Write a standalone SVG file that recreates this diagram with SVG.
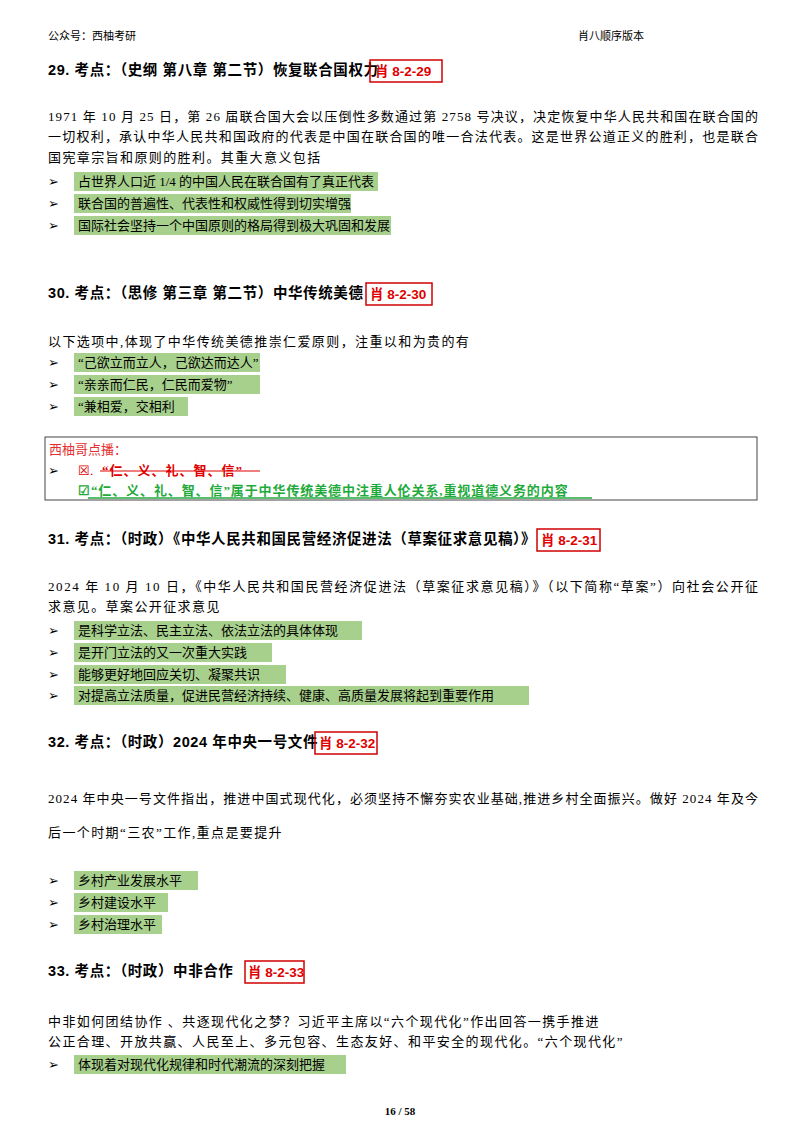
<svg xmlns="http://www.w3.org/2000/svg" width="800" height="1132" viewBox="0 0 800 1132">
<style>
text{font-family:"Liberation Serif","Noto Sans CJK SC",serif;font-size:13px;fill:#000}
.b{letter-spacing:1.4px}
.h{font-weight:bold;font-size:14.5px;letter-spacing:0.6px;font-family:"Liberation Sans","Noto Sans CJK SC",sans-serif}
.r{fill:#e00000;font-weight:bold;font-family:"Liberation Sans","Noto Sans CJK SC",sans-serif;font-size:13.5px}
.tag{fill:none;stroke:#d00000;stroke-width:1.5}
.hl{fill:#a8d08d}
.sm{font-size:11px}
</style>
<rect width="800" height="1132" fill="#fff"/>
<text class="sm" x="48" y="40">公众号：西柚考研</text>
<text class="sm" x="578" y="40">肖八顺序版本</text>

<g id="s29">
<text class="h" x="48" y="75">29. 考点：（史纲 第八章 第二节）恢复联合国权力</text>
<rect class="tag" x="370" y="60" width="72" height="22"/>
<text class="r" x="375" y="76">肖 8-2-29</text>
<text x="48" y="121" textLength="710">1971 年 10 月 25 日，第 26 届联合国大会以压倒性多数通过第 2758 号决议，决定恢复中华人民共和国在联合国的</text>
<text x="48" y="141" textLength="710">一切权利，承认中华人民共和国政府的代表是中国在联合国的唯一合法代表。这是世界公道正义的胜利，也是联合</text>
<text class="b" x="48" y="162">国宪章宗旨和原则的胜利。其重大意义包括</text>
<rect class="hl" x="74" y="172" width="304" height="19"/>
<rect class="hl" x="74" y="194" width="277" height="19"/>
<rect class="hl" x="74" y="216" width="317" height="19"/>
<text x="48" y="186">➢</text><text x="78" y="186">占世界人口近 1/4 的中国人民在联合国有了真正代表</text>
<text x="48" y="208">➢</text><text x="78" y="208">联合国的普遍性、代表性和权威性得到切实增强</text>
<text x="48" y="230">➢</text><text x="78" y="230">国际社会坚持一个中国原则的格局得到极大巩固和发展</text>
</g>

<g id="s30">
<text class="h" x="48" y="298">30. 考点：（思修 第三章 第二节）中华传统美德</text>
<rect class="tag" x="366" y="283" width="66" height="22"/>
<text class="r" x="370" y="299">肖 8-2-30</text>
<text class="b" x="48" y="346">以下选项中,体现了中华传统美德推崇仁爱原则，注重以和为贵的有</text>
<rect class="hl" x="74" y="353" width="186" height="19"/>
<rect class="hl" x="74" y="375" width="186" height="19"/>
<rect class="hl" x="74" y="397" width="114" height="19"/>
<text x="48" y="367">➢</text><text x="78" y="367">“己欲立而立人，己欲达而达人”</text>
<text x="48" y="389">➢</text><text x="78" y="389">“亲亲而仁民，仁民而爱物”</text>
<text x="48" y="411">➢</text><text x="78" y="411">“兼相爱，交相利</text>
<rect x="45" y="437" width="712" height="63" fill="none" stroke="#444" stroke-width="1"/>
<text x="49" y="454" style="fill:#e53030">西柚哥点播：</text>
<text x="48" y="475">➢</text>
<text x="78" y="475" style="fill:#e00000">☒.</text>
<text x="102" y="475" style="fill:#e00000;font-weight:bold;letter-spacing:1px">“仁、义、礼、智、信”</text>
<line x1="100" y1="471" x2="260" y2="471" stroke="#e00000" stroke-width="1.2"/>
<text x="78" y="495" style="fill:#1faa3c;font-weight:bold;letter-spacing:0.9px">☑“仁、义、礼、智、信”属于中华传统美德中注重人伦关系,重视道德义务的内容</text>
<line x1="88" y1="498" x2="592" y2="498" stroke="#1faa3c" stroke-width="1.5"/>
</g>

<g id="s31">
<text class="h" x="48" y="544">31. 考点：（时政）《中华人民共和国民营经济促进法（草案征求意见稿）》</text>
<rect class="tag" x="537" y="529" width="63" height="22"/>
<text class="r" x="541" y="545">肖 8-2-31</text>
<text x="48" y="591" textLength="710">2024 年 10 月 10 日，《中华人民共和国民营经济促进法（草案征求意见稿）》（以下简称“草案”）向社会公开征</text>
<text class="b" x="48" y="611">求意见。草案公开征求意见</text>
<rect class="hl" x="74" y="621" width="288" height="19"/>
<rect class="hl" x="74" y="643" width="198" height="19"/>
<rect class="hl" x="74" y="665" width="212" height="19"/>
<rect class="hl" x="74" y="686" width="455" height="19"/>
<text x="48" y="635">➢</text><text x="78" y="635">是科学立法、民主立法、依法立法的具体体现</text>
<text x="48" y="657">➢</text><text x="78" y="657">是开门立法的又一次重大实践</text>
<text x="48" y="679">➢</text><text x="78" y="679">能够更好地回应关切、凝聚共识</text>
<text x="48" y="700">➢</text><text x="78" y="700">对提高立法质量，促进民营经济持续、健康、高质量发展将起到重要作用</text>
</g>

<g id="s32">
<text class="h" x="48" y="747">32. 考点：（时政）2024 年中央一号文件</text>
<rect class="tag" x="315" y="732" width="62" height="22"/>
<text class="r" x="319" y="748">肖 8-2-32</text>
<text x="48" y="803" textLength="710">2024 年中央一号文件指出，推进中国式现代化，必须坚持不懈夯实农业基础,推进乡村全面振兴。做好 2024 年及今</text>
<text class="b" x="48" y="837">后一个时期“三农”工作,重点是要提升</text>
<rect class="hl" x="74" y="871" width="124" height="19"/>
<rect class="hl" x="74" y="893" width="94" height="19"/>
<rect class="hl" x="74" y="915" width="88" height="19"/>
<text x="48" y="885">➢</text><text x="78" y="885">乡村产业发展水平</text>
<text x="48" y="907">➢</text><text x="78" y="907">乡村建设水平</text>
<text x="48" y="929">➢</text><text x="78" y="929">乡村治理水平</text>
</g>

<g id="s33">
<text class="h" x="48" y="976">33. 考点：（时政）中非合作</text>
<rect class="tag" x="245" y="961" width="59" height="22"/>
<text class="r" x="248" y="977">肖 8-2-33</text>
<text class="b" x="48" y="1026">中非如何团结协作 、共逐现代化之梦？习近平主席以“六个现代化”作出回答一携手推进</text>
<text class="b" x="48" y="1046">公正合理、开放共赢、人民至上、多元包容、生态友好、和平安全的现代化。“六个现代化”</text>
<rect class="hl" x="74" y="1055" width="272" height="19"/>
<text x="48" y="1069">➢</text><text x="78" y="1069">体现着对现代化规律和时代潮流的深刻把握</text>
</g>
<text class="sm" x="400" y="1115" text-anchor="middle" style="font-weight:bold">16 / 58</text>
</svg>
